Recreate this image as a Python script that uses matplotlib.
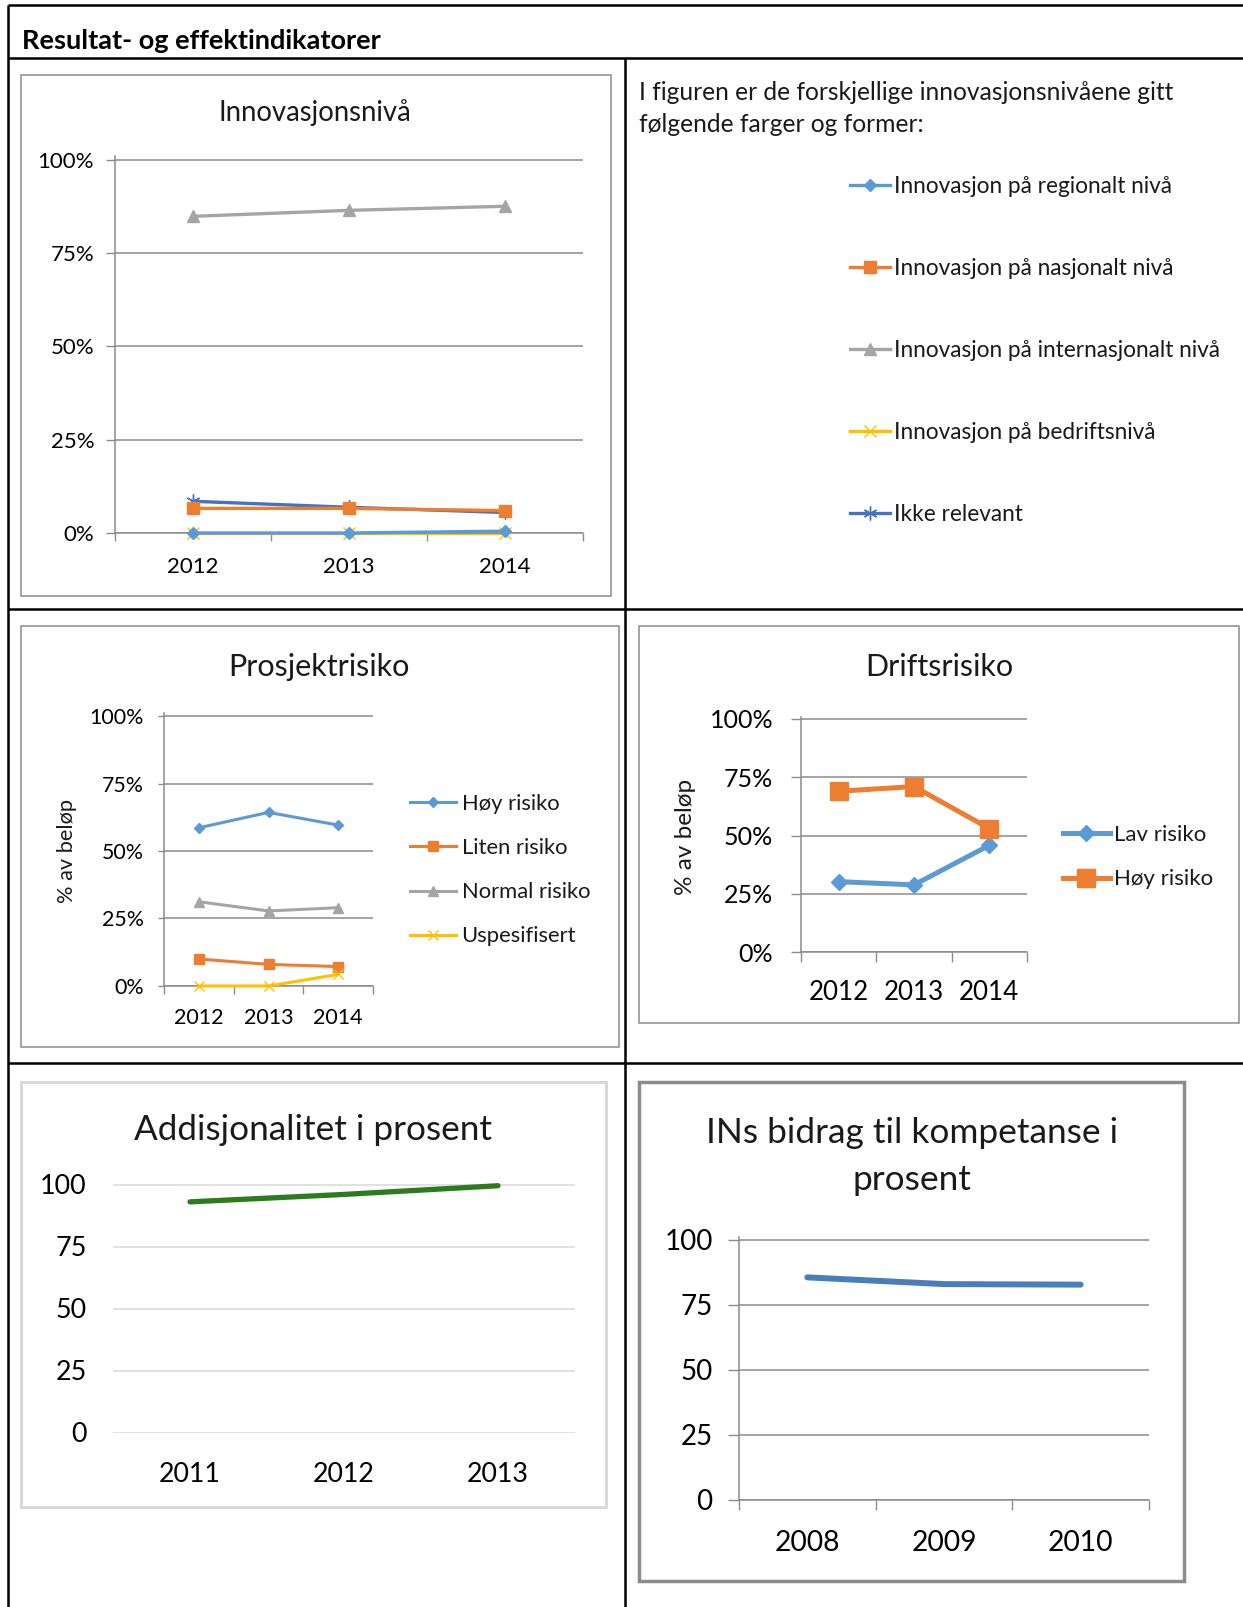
import numpy as np
import matplotlib
matplotlib.use('Agg')
import matplotlib.pyplot as plt
from matplotlib.patches import Rectangle
from matplotlib.lines import Line2D

plt.rcParams['font.family'] = ['Lato', 'DejaVu Sans']
plt.rcParams['text.color'] = '#1a1a1a'

W, H = 1243, 1607

# --- data (lest av figuren) ---
aar_innov = ['2012', '2013', '2014']
innov_regional = [0.0, 0.0, 0.5]
innov_nasjonalt = [6.6, 6.6, 6.0]
innov_internasjonalt = [84.9, 86.5, 87.6]
innov_bedrift = [0.0, 0.0, 0.0]
innov_ikke_relevant = [8.5, 6.9, 5.5]
innov_navn = ['Innovasjon på regionalt nivå', 'Innovasjon på nasjonalt nivå',
              'Innovasjon på internasjonalt nivå', 'Innovasjon på bedriftsnivå',
              'Ikke relevant']

aar_prosjekt = ['2012', '2013', '2014']
prosjekt_hoy = [58.6, 64.3, 59.6]
prosjekt_liten = [10.0, 8.0, 7.2]
prosjekt_normal = [31.2, 27.8, 29.0]
prosjekt_uspes = [0.0, 0.0, 4.3]
prosjekt_navn = ['Høy risiko', 'Liten risiko', 'Normal risiko', 'Uspesifisert']

aar_drift = ['2012', '2013', '2014']
drift_lav = [30.2, 28.8, 45.8]
drift_hoy = [69.0, 71.0, 53.0]
drift_navn = ['Lav risiko', 'Høy risiko']

aar_addisjon = ['2011', '2012', '2013']
addisjonalitet = [93.0, 96.0, 99.5]

aar_kompetanse = ['2008', '2009', '2010']
kompetanse = [85.6, 83.0, 82.8]

y_ticks = [0, 25, 50, 75, 100]

BLA, ORANSJE, GRA, GUL, MORKBLA = '#5B9BD5', '#ED7D31', '#A5A5A5', '#FFC000', '#4472C4'
AKSE = '#8c8c8c'

fig = plt.figure(figsize=(W / 100, H / 100), dpi=100)
fig.patch.set_facecolor('white')


def px_line(xs, ys, lw=1.8, color='black'):
    fig.add_artist(Line2D([x / W for x in xs], [1 - y / H for y in ys],
                          color=color, linewidth=lw, solid_capstyle='butt'))


def px_box(x0, y0, x1, y1, color, lw):
    fig.add_artist(Rectangle((x0 / W, 1 - y1 / H), (x1 - x0) / W, (y1 - y0) / H,
                             transform=fig.transFigure, fill=False,
                             edgecolor=color, linewidth=lw))


def px_text(x, y, s, **kw):
    fig.text(x / W, 1 - y / H, s, **kw)


def px_axes(x0, x1, y100, y0, ymax=101):
    # y100/y0 = pikselrad for 100 og 0
    top = y0 - (y0 - y100) * ymax / 100
    ax = fig.add_axes([x0 / W, 1 - y0 / H, (x1 - x0) / W, (y0 - top) / H])
    ax.set_ylim(0, ymax)
    ax.set_xlim(-0.5, 2.5)
    ax.patch.set_alpha(0)
    return ax


def stil(ax, years, fs_y, fs_x, ylen, xlen, ypad, xpad, grid, pct=True, akser=True):
    ax.set_yticks(y_ticks)
    ax.set_yticklabels([f'{t}%' if pct else str(t) for t in y_ticks], fontsize=fs_y)
    ax.set_xticks(range(len(years)))
    ax.set_xticklabels(years, fontsize=fs_x)
    ax.tick_params(axis='x', which='major', length=0, pad=xpad)
    ax.tick_params(axis='y', length=ylen, color=grid, pad=ypad, width=1)
    ax.grid(axis='y', color=grid, linewidth=1.1)
    ax.set_axisbelow(True)
    for s in ['top', 'right']:
        ax.spines[s].set_visible(False)
    if akser:
        ax.set_xticks([-0.5, 0.5, 1.5, 2.5], minor=True)
        ax.tick_params(axis='x', which='minor', length=xlen, color=grid, width=1)
        for s in ['left', 'bottom']:
            ax.spines[s].set_color(grid)
            ax.spines[s].set_linewidth(1.1)
    else:
        for s in ['left', 'bottom']:
            ax.spines[s].set_visible(False)


# --- tabell ---
px_line([8, 1243], [5, 5])
px_line([8, 8], [5, 1607])
px_line([8, 1243], [58, 58])
px_line([8, 1243], [609, 609])
px_line([8, 1243], [1063, 1063])
px_line([625, 625], [58, 1607])
px_text(22, 41, 'Resultat- og effektindikatorer', fontsize=19.5, fontweight='bold',
        va='center', ha='left', color='black')

# --- Innovasjonsnivå ---
px_box(21, 75, 611, 596, AKSE, 1.1)
ax1 = px_axes(115, 583, 160, 533)
x = np.arange(3)
ax1.plot(x, innov_regional, color=BLA, lw=2.4, marker='D', ms=6.5, clip_on=False, zorder=3)
ax1.plot(x, innov_nasjonalt, color=ORANSJE, lw=2.4, marker='s', ms=9, clip_on=False, zorder=3)
ax1.plot(x, innov_internasjonalt, color=GRA, lw=2.4, marker='^', ms=8, clip_on=False, zorder=3)
ax1.plot(x, innov_bedrift, color=GUL, lw=2.4, marker='x', ms=8, mew=1, clip_on=False, zorder=2)
ax1.plot(x, innov_ikke_relevant, color=MORKBLA, lw=2.4, marker=(6, 2, 0), ms=10, mew=1,
         clip_on=False, zorder=2)
stil(ax1, aar_innov, 16, 16, 6.5, 6, 8.5, 17, AKSE)
px_text(315, 113, 'Innovasjonsnivå', fontsize=19.8, ha='center', va='center')

px_text(639, 92, 'I figuren er de forskjellige innovasjonsnivåene gitt', fontsize=17.7,
        ha='left', va='center')
px_text(639, 124, 'følgende farger og former:', fontsize=17.7, ha='left', va='center')
fig.legend(ax1.get_lines(), innov_navn, loc='upper left',
           bbox_to_anchor=(850 / W, 1 - 176 / H), frameon=False, fontsize=16.3,
           handlelength=1.75, handletextpad=0.2, labelspacing=2.69,
           borderpad=0, borderaxespad=0)

# --- Prosjektrisiko ---
px_box(21, 626, 619, 1047, AKSE, 1.1)
ax2 = px_axes(164, 373, 716, 986)
ax2.plot(x, prosjekt_hoy, color=BLA, lw=2.2, marker='D', ms=5.5, clip_on=False, zorder=3)
ax2.plot(x, prosjekt_liten, color=ORANSJE, lw=2.2, marker='s', ms=7.5, clip_on=False, zorder=3)
ax2.plot(x, prosjekt_normal, color=GRA, lw=2.2, marker='^', ms=7.5, clip_on=False, zorder=3)
ax2.plot(x, prosjekt_uspes, color=GUL, lw=2.2, marker='x', ms=7, mew=1, clip_on=False, zorder=3)
stil(ax2, aar_prosjekt, 15.4, 15.5, 4.5, 6, 10, 15.5, AKSE)
px_text(319, 667, 'Prosjektrisiko', fontsize=22, ha='center', va='center')
px_text(67, 851, '% av beløp', fontsize=15.7, rotation=90, ha='center', va='center')
fig.legend(ax2.get_lines(), prosjekt_navn, loc='upper left',
           bbox_to_anchor=(410 / W, 1 - 794 / H), frameon=False, fontsize=15.8,
           handlelength=2.1, handletextpad=0.25, labelspacing=1.1,
           borderpad=0, borderaxespad=0)

# --- Driftsrisiko ---
px_box(639, 626, 1239, 1023, AKSE, 1.1)
ax3 = px_axes(801, 1027, 719, 952)
ax3.plot(x, drift_lav, color=BLA, lw=3.6, marker='D', ms=8.5, clip_on=False, zorder=3)
ax3.plot(x, drift_hoy, color=ORANSJE, lw=3.6, marker='s', ms=13, clip_on=False, zorder=3)
stil(ax3, aar_drift, 18, 18.7, 7, 7, 13, 20, AKSE)
px_text(939, 667, 'Driftsrisiko', fontsize=22, ha='center', va='center')
px_text(686, 837, '% av beløp', fontsize=17.5, rotation=90, ha='center', va='center')
fig.legend(ax3.get_lines(), drift_navn, loc='upper left',
           bbox_to_anchor=(1063 / W, 1 - 825 / H), frameon=False, fontsize=16,
           handlelength=2.1, handletextpad=0.2, labelspacing=1.1,
           borderpad=0, borderaxespad=0)

# --- Addisjonalitet i prosent ---
px_box(21, 1082, 606, 1507, '#d9d9d9', 2.2)
ax4 = px_axes(113, 575, 1184.5, 1432.5)
ax4.plot(x, addisjonalitet, color='#2e7a1e', lw=3.8, solid_capstyle='round', clip_on=False)
stil(ax4, aar_addisjon, 19.4, 19.3, 0, 0, 19, 21.5, '#d9d9d9', pct=False, akser=False)
px_text(313, 1130, 'Addisjonalitet i prosent', fontsize=25.3, ha='center', va='center')

# --- INs bidrag til kompetanse ---
px_box(639, 1082, 1184, 1581, '#8c8c8c', 2.5)
ax5 = px_axes(739, 1149, 1240, 1499.5)
ax5.plot(x, kompetanse, color='#4a7ebb', lw=4.3, solid_capstyle='round', clip_on=False)
stil(ax5, aar_kompetanse, 20, 20.3, 8, 7, 11, 22, AKSE, pct=False)
px_text(912, 1133, 'INs bidrag til kompetanse i', fontsize=25.4, ha='center', va='center')
px_text(912, 1180, 'prosent', fontsize=25.4, ha='center', va='center')

fig.savefig('out.png', dpi=100, facecolor='white')
